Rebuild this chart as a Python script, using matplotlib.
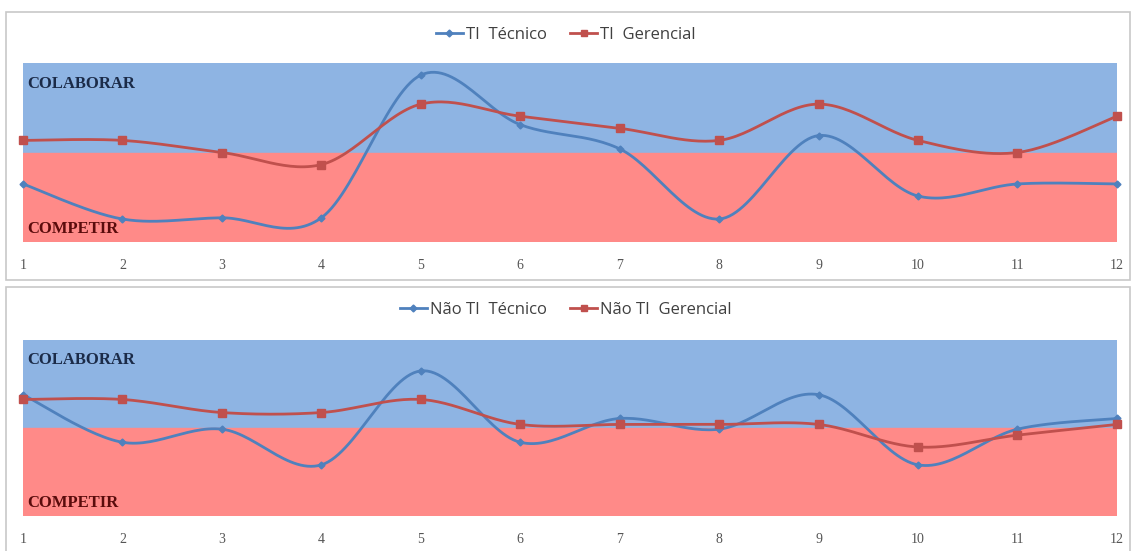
import numpy as np
import matplotlib.pyplot as plt
from matplotlib.patches import Rectangle
from matplotlib.lines import Line2D

# Dados (escala: 0 = divisa colaborar/competir)
periodos = list(range(1, 13))
ti_tecnico = [-2.6, -5.5, -5.4, -5.4, 6.4, 2.3, 0.3, -5.5, 1.4, -3.6, -2.6, -2.6]
ti_gerencial = [1, 1, 0, -1, 4, 3, 2, 1, 4, 1, 0, 3]
nao_ti_tecnico = [2.8, -1.2, -0.1, -3.1, 4.8, -1.2, 0.8, -0.1, 2.8, -3.1, -0.1, 0.8]
nao_ti_gerencial = [2.4, 2.4, 1.3, 1.3, 2.4, 0.3, 0.3, 0.3, 0.3, -1.6, -0.6, 0.3]

cor_azul = "#4F81BD"
cor_verm = "#C0504D"
faixa_azul = "#8EB4E3"
faixa_verm = "#FF8A88"


def suavizar(x, y, n=30):
    # curva suavizada tipo Excel (bezier com tangentes de Catmull-Rom)
    x = np.asarray(x, float)
    y = np.asarray(y, float)
    pts = np.column_stack([x, y])
    out = []
    for i in range(len(pts) - 1):
        p0 = pts[max(i - 1, 0)]
        p1 = pts[i]
        p2 = pts[i + 1]
        p3 = pts[min(i + 2, len(pts) - 1)]
        c1 = p1 + (p2 - p0) / 6
        c2 = p2 - (p3 - p1) / 6
        t = np.linspace(0, 1, n)[:, None]
        seg = ((1 - t) ** 3) * p1 + 3 * ((1 - t) ** 2) * t * c1 + 3 * (1 - t) * t ** 2 * c2 + t ** 3 * p2
        out.append(seg if i == 0 else seg[1:])
    out = np.vstack(out)
    return out[:, 0], out[:, 1]


fig = plt.figure(figsize=(11.32, 5.51), dpi=100)

# molduras dos dois gráficos
fig.patches.append(Rectangle((6 / 1132, 1 - 280 / 551), 1124 / 1132, 268 / 551,
                             transform=fig.transFigure, fill=False, ec="#c8c8c8", lw=1.2))
fig.patches.append(Rectangle((6 / 1132, -0.01), 1124 / 1132, 1 - 287 / 551 + 0.01,
                             transform=fig.transFigure, fill=False, ec="#c8c8c8", lw=1.2))

paineis = [
    ([0.0203, 1 - 242 / 551, 0.9664, 179 / 551], ti_tecnico, ti_gerencial,
     "TI  Técnico", "TI  Gerencial", 1 - 35 / 551),
    ([0.0203, 1 - 516 / 551, 0.9664, 176 / 551], nao_ti_tecnico, nao_ti_gerencial,
     "Não TI  Técnico", "Não TI  Gerencial", 1 - 310 / 551),
]

for rect, tec, ger, lab_tec, lab_ger, y_leg in paineis:
    ax = fig.add_axes(rect)
    ax.set_xlim(1, 12)
    ax.set_ylim(-7.4, 7.4)
    ax.axhspan(0, 7.4, color=faixa_azul, zorder=0)
    ax.axhspan(-7.4, 0, color=faixa_verm, zorder=0)

    xs, ys = suavizar(periodos, tec)
    ax.plot(xs, ys, color=cor_azul, lw=2, zorder=3, clip_on=False)
    ax.plot(periodos, tec, ls="none", marker="D", ms=3.5, color=cor_azul, zorder=4, clip_on=False)
    xs, ys = suavizar(periodos, ger)
    ax.plot(xs, ys, color=cor_verm, lw=2, zorder=3, clip_on=False)
    ax.plot(periodos, ger, ls="none", marker="s", ms=6, color=cor_verm, zorder=4, clip_on=False)

    ax.text(0.004, 0.885, "COLABORAR", transform=ax.transAxes, family="Liberation Serif",
            weight="bold", fontsize=12, color="#1b2b48", va="center", ha="left")
    ax.text(0.004, 0.075, "COMPETIR", transform=ax.transAxes, family="Liberation Serif",
            weight="bold", fontsize=12, color="#5a0c0c", va="center", ha="left")

    ax.set_xticks(periodos)
    ax.set_xticklabels([str(p) for p in periodos], family="Liberation Serif",
                       fontsize=10, color="#555555")
    ax.tick_params(axis="x", length=0, pad=12)
    ax.set_yticks([])
    for s in ax.spines.values():
        s.set_visible(False)

    handles = [
        Line2D([], [], color=cor_azul, lw=2, marker="D", ms=3.5),
        Line2D([], [], color=cor_verm, lw=2, marker="s", ms=5),
    ]
    leg = fig.legend(handles, [lab_tec, lab_ger], loc="center", bbox_to_anchor=(0.5, y_leg),
                     ncol=2, frameon=False, handlelength=1.6, handletextpad=0.2,
                     columnspacing=1.4, prop={"family": "Open Sans", "size": 12})
    for t in leg.get_texts():
        t.set_color("#404040")

fig.savefig("out.png", dpi=100)
